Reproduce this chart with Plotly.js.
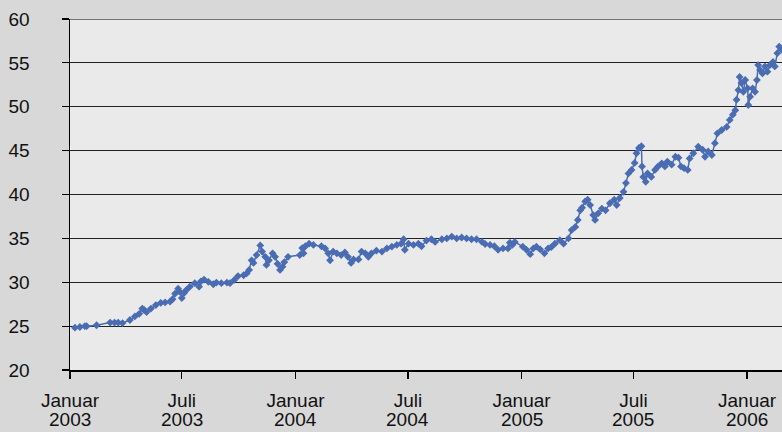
<!DOCTYPE html>
<html>
<head>
<meta charset="utf-8">
<script src="https://cdn.plot.ly/plotly-3.0.1.min.js"></script>
<style>
html,body{margin:0;padding:0;background:#d8d8d8;}
#chart{width:782px;height:432px;}
</style>
</head>
<body>
<div id="chart"></div>
<script>
const dates = [
 '2003-01-09','2003-01-17','2003-01-25','2003-01-28','2003-02-13','2003-03-07','2003-03-14','2003-03-20','2003-03-27',
 '2003-04-08','2003-04-16','2003-04-23','2003-04-28','2003-05-01','2003-05-05','2003-05-12','2003-05-20','2003-05-28',
 '2003-06-04','2003-06-12','2003-06-16','2003-06-20','2003-06-25','2003-06-28','2003-07-01','2003-07-05','2003-07-08',
 '2003-07-14','2003-07-22','2003-07-29','2003-08-01','2003-08-06','2003-08-13','2003-08-21','2003-08-26','2003-09-03',
 '2003-09-12','2003-09-17','2003-09-24','2003-09-30','2003-10-09','2003-10-14','2003-10-18','2003-10-22','2003-10-25',
 '2003-10-30','2003-11-05','2003-11-08','2003-11-13','2003-11-15','2003-11-19','2003-11-25','2003-11-29','2003-12-03',
 '2003-12-07','2003-12-11','2003-12-14','2003-12-20',
 '2004-01-08','2004-01-12','2004-01-14','2004-01-17','2004-01-23','2004-01-30','2004-02-12','2004-02-18','2004-02-23',
 '2004-02-26','2004-03-02','2004-03-08','2004-03-15','2004-03-21','2004-03-26','2004-03-31','2004-04-04','2004-04-12',
 '2004-04-17','2004-04-23','2004-04-28','2004-05-03','2004-05-11','2004-05-20','2004-05-28','2004-06-05','2004-06-13',
 '2004-06-20','2004-06-24','2004-06-26','2004-07-02','2004-07-10','2004-07-18','2004-07-23','2004-07-31','2004-08-08',
 '2004-08-14','2004-08-25','2004-09-02','2004-09-10','2004-09-18','2004-09-26','2004-10-04','2004-10-12','2004-10-20',
 '2004-10-29','2004-11-03','2004-11-11','2004-11-18','2004-11-24','2004-12-02','2004-12-10','2004-12-13','2004-12-17',
 '2004-12-21',
 '2005-01-03','2005-01-09','2005-01-15','2005-01-20','2005-01-25','2005-01-31','2005-02-07','2005-02-13','2005-02-18',
 '2005-02-24','2005-03-04','2005-03-10','2005-03-18','2005-03-23','2005-03-29','2005-04-02','2005-04-06','2005-04-09',
 '2005-04-14','2005-04-18','2005-04-22','2005-04-27','2005-04-30','2005-05-05','2005-05-11','2005-05-17','2005-05-24',
 '2005-05-31','2005-06-04','2005-06-09','2005-06-15','2005-06-19','2005-06-23','2005-06-28','2005-07-03','2005-07-06',
 '2005-07-10','2005-07-14','2005-07-15','2005-07-17','2005-07-21','2005-07-24','2005-07-30','2005-08-05','2005-08-10',
 '2005-08-16','2005-08-21','2005-08-25','2005-09-01','2005-09-07','2005-09-12','2005-09-16','2005-09-21','2005-09-27',
 '2005-09-30','2005-10-06','2005-10-14','2005-10-21','2005-10-25','2005-10-30','2005-11-05','2005-11-10','2005-11-14',
 '2005-11-21','2005-11-29','2005-12-04','2005-12-09','2005-12-13','2005-12-15','2005-12-18','2005-12-20','2005-12-23',
 '2005-12-26','2005-12-29',
 '2006-01-02','2006-01-03','2006-01-06','2006-01-10','2006-01-14','2006-01-17','2006-01-19','2006-01-22','2006-01-26',
 '2006-01-30','2006-02-03','2006-02-07','2006-02-12','2006-02-15','2006-02-19','2006-02-22','2006-02-26'
];
const prices = [
 24.82,24.9,25.0,25.0,25.1,25.4,25.4,25.4,25.35,
 25.7,26.1,26.4,27.0,26.84,26.6,27.0,27.4,27.66,
 27.7,27.8,28.06,28.7,29.27,28.9,28.2,28.8,29.1,
 29.5,29.9,29.5,30.1,30.3,30.05,29.77,29.96,29.9,
 29.96,29.9,30.26,30.7,30.8,31.0,31.4,32.5,32.2,
 33.1,34.2,33.5,32.9,31.97,32.5,33.3,32.9,32.1,
 31.4,31.77,32.3,32.9,
 33.1,33.9,33.3,34.1,34.4,34.25,34.1,33.85,33.3,
 32.5,33.5,33.3,33.1,33.4,32.9,32.2,32.6,32.6,
 33.5,33.3,32.9,33.3,33.6,33.5,33.85,34.05,34.25,
 34.4,34.9,33.7,34.4,34.25,34.4,34.1,34.75,34.9,
 34.6,34.9,35.0,35.2,35.0,35.1,35.0,34.9,34.9,
 34.6,34.36,34.25,34.1,33.7,33.85,33.85,34.5,34.25,
 34.6,
 34.05,33.7,33.2,33.85,34.05,33.75,33.3,33.85,34.0,
 34.4,34.8,34.4,35.0,35.95,36.3,37.1,38.2,38.5,
 39.2,39.4,38.8,37.66,37.1,37.85,38.4,38.2,39.0,
 39.4,38.8,39.6,40.3,41.3,42.4,42.8,43.6,44.7,
 45.3,45.5,43.2,42.0,41.45,42.4,42.0,42.8,43.2,
 43.55,43.2,43.75,43.4,44.3,44.2,43.2,43.0,42.8,
 44.1,44.7,45.45,45.1,44.3,44.9,44.5,45.85,46.97,
 47.35,47.7,48.5,49.1,49.6,50.8,51.9,53.4,52.7,
 51.7,53.05,
 52.1,50.2,51.15,52.1,51.7,53.05,54.75,54.2,53.8,
 54.6,54.0,54.75,55.1,54.6,56.1,56.85,56.5
];
const tickDates = ['2003-01-01','2003-07-01','2004-01-01','2004-07-01','2005-01-01','2005-07-01','2006-01-01'];
const tickMonths = ['Januar','Juli','Januar','Juli','Januar','Juli','Januar'];
const tickYears = ['2003','2003','2004','2004','2005','2005','2006'];
const yTicks = [20,25,30,35,40,45,50,55,60];

const FONT = "Liberation Sans, Arial, sans-serif";
const FSIZE = 19;

const trace = {
  x: dates, y: prices, type: 'scatter', mode: 'lines+markers',
  line: {color: '#4a6cb3', width: 1.5},
  marker: {symbol: 'diamond', size: 6, color: '#4a6cb3'},
  hoverinfo: 'x+y'
};

const annotations = tickDates.map((d, i) => ({
  x: d, y: 0, xref: 'x', yref: 'paper', text: tickYears[i], showarrow: false,
  yanchor: 'top', xanchor: 'center', yshift: -37,
  font: {family: FONT, size: FSIZE, color: '#111'}
}));

const layout = {
  width: 782, height: 432,
  margin: {l: 70, r: 0, t: 19, b: 62},
  paper_bgcolor: '#d8d8d8', plot_bgcolor: '#eaeaea',
  showlegend: false,
  font: {family: FONT, size: FSIZE, color: '#111'},
  xaxis: {
    type: 'date', range: ['2003-01-01', '2006-02-26 14:00'],
    tickmode: 'array', tickvals: tickDates, ticktext: tickMonths,
    ticks: 'outside', ticklen: 7, tickwidth: 1.2, tickcolor: '#000',
    ticklabelstandoff: 5,
    showgrid: false, zeroline: false,
    showline: true, linecolor: '#000', linewidth: 2,
    tickfont: {family: FONT, size: FSIZE, color: '#111'}
  },
  yaxis: {
    range: [20, 60], tickmode: 'array', tickvals: yTicks,
    ticks: 'outside', ticklen: 7, tickwidth: 1.2, tickcolor: '#000',
    showgrid: true, gridcolor: '#222', gridwidth: 1, zeroline: false,
    showline: true, linecolor: '#000', linewidth: 1.5,
    ticklabelstandoff: 28,
    tickfont: {family: FONT, size: FSIZE, color: '#111'}
  },
  shapes: [{type: 'line', xref: 'paper', yref: 'y', x0: 0, x1: 1, y0: 60, y1: 60, line: {color: '#000', width: 1.2}}],
  annotations: annotations
};

Plotly.newPlot('chart', [trace], layout, {displayModeBar: false, staticPlot: true});
</script>
</body>
</html>
